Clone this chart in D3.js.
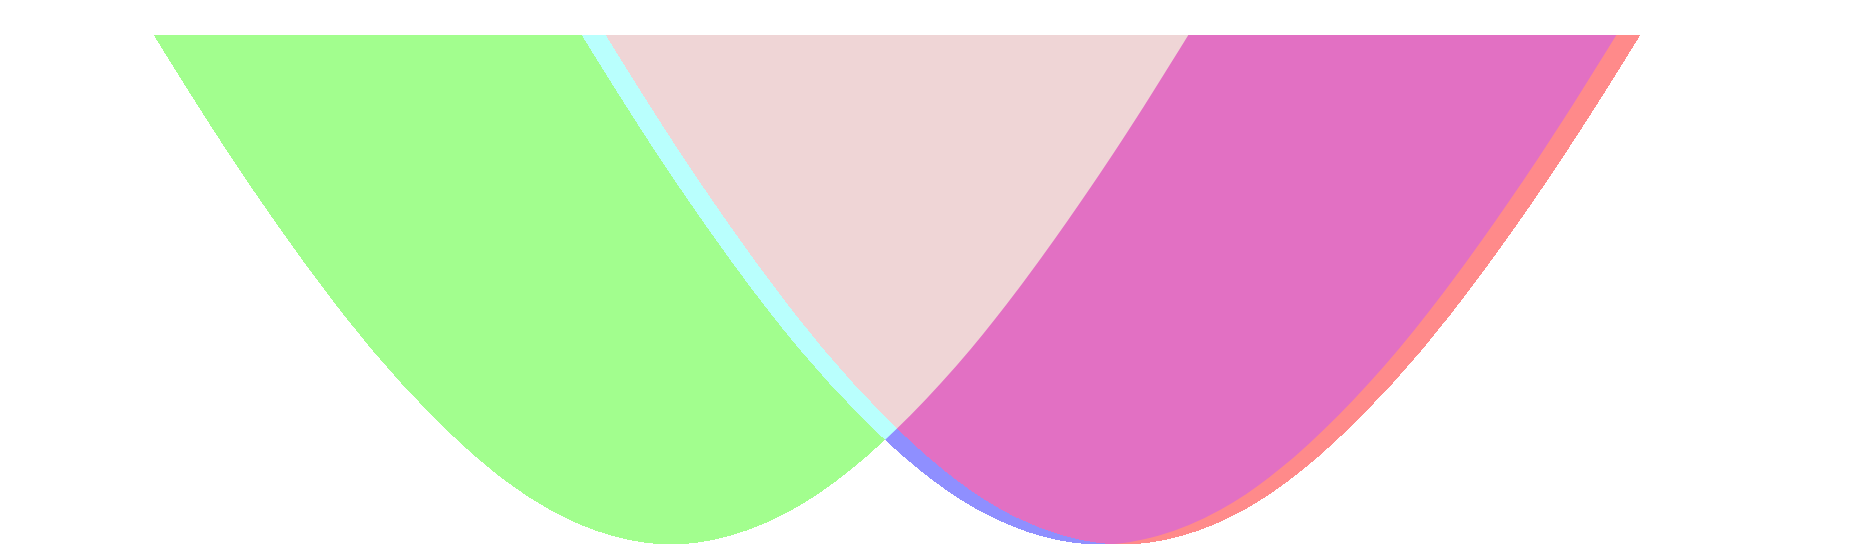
<!DOCTYPE html>
<html>
<head>
<meta charset="utf-8">
<script src="https://cdn.jsdelivr.net/npm/d3@7"></script>
<style>
  html, body { margin: 0; padding: 0; background: #fff; }
  svg { display: block; }
</style>
</head>
<body>
<svg id="chart" width="1859" height="550"></svg>
<script>
// heights of each sampled point (same rise pattern read for all three curves)
const levels = [5.97, 5.47, 4.50, 3.58, 2.73, 1.96, 1.30, 0.75, 0.34, 0.09, 0, 0.09, 0.34, 0.75, 1.30, 1.96, 2.73, 3.58, 4.50, 5.47, 5.97];

// x positions for each curve
const greenX = [1.01, 1.31, 1.91, 2.51, 3.11, 3.71, 4.31, 4.91, 5.51, 6.11, 6.71, 7.31, 7.91, 8.51, 9.11, 9.71, 10.31, 10.91, 11.51, 12.11, 12.41];
const blueX  = [5.29, 5.59, 6.19, 6.79, 7.39, 7.99, 8.59, 9.19, 9.79, 10.39, 10.99, 11.59, 12.19, 12.79, 13.39, 13.99, 14.59, 15.19, 15.79, 16.39, 16.69];
const redX   = [5.53, 5.83, 6.43, 7.03, 7.63, 8.23, 8.83, 9.43, 10.03, 10.63, 11.23, 11.83, 12.43, 13.03, 13.63, 14.23, 14.83, 15.43, 16.03, 16.63, 16.93];

const yMax = 5.1;

const width = 1859, height = 550;
const margin = { top: 35, bottom: 5 };

const svg = d3.select('#chart');

const x = d3.scaleLinear().domain([0, 18.59]).range([0, width]);
const y = d3.scaleLinear().domain([0, yMax]).range([height - margin.bottom - 0.5, margin.top]);

const toPoints = xs => xs.map((v, i) => ({ x: v, y: levels[i] }));
const green = toPoints(greenX);
const blue = toPoints(blueX);
const red = toPoints(redX);

// region above each curve, closed off well above the plot top
const area = d3.area()
  .x(d => x(d.x))
  .y0(y(7))
  .y1(d => y(d.y))
  .curve(d3.curveNatural);

const defs = svg.append('defs');
defs.append('clipPath').attr('id', 'plot')
  .append('rect')
  .attr('x', 0).attr('y', margin.top)
  .attr('width', width).attr('height', height - margin.top);
defs.append('clipPath').attr('id', 'clip-green')
  .append('path').attr('d', area(green));
defs.append('clipPath').attr('id', 'clip-blue')
  .append('path').attr('d', area(blue));

const g = svg.append('g')
  .attr('clip-path', 'url(#plot)')
  .attr('shape-rendering', 'crispEdges');

g.append('path').attr('d', area(green)).attr('fill', '#a2fe8e');
g.append('path').attr('d', area(blue)).attr('fill', '#8f8fff');
g.append('path').attr('d', area(red)).attr('fill', '#ff8a8a');

// overlaps
g.append('path').attr('d', area(blue))
  .attr('clip-path', 'url(#clip-green)')
  .attr('fill', '#b9fffd');
g.append('path').attr('d', area(red))
  .attr('clip-path', 'url(#clip-blue)')
  .attr('fill', '#e270c3');
g.append('g')
  .attr('clip-path', 'url(#clip-green)')
  .append('path').attr('d', area(red))
  .attr('clip-path', 'url(#clip-blue)')
  .attr('fill', '#efd5d6');
</script>
</body>
</html>
